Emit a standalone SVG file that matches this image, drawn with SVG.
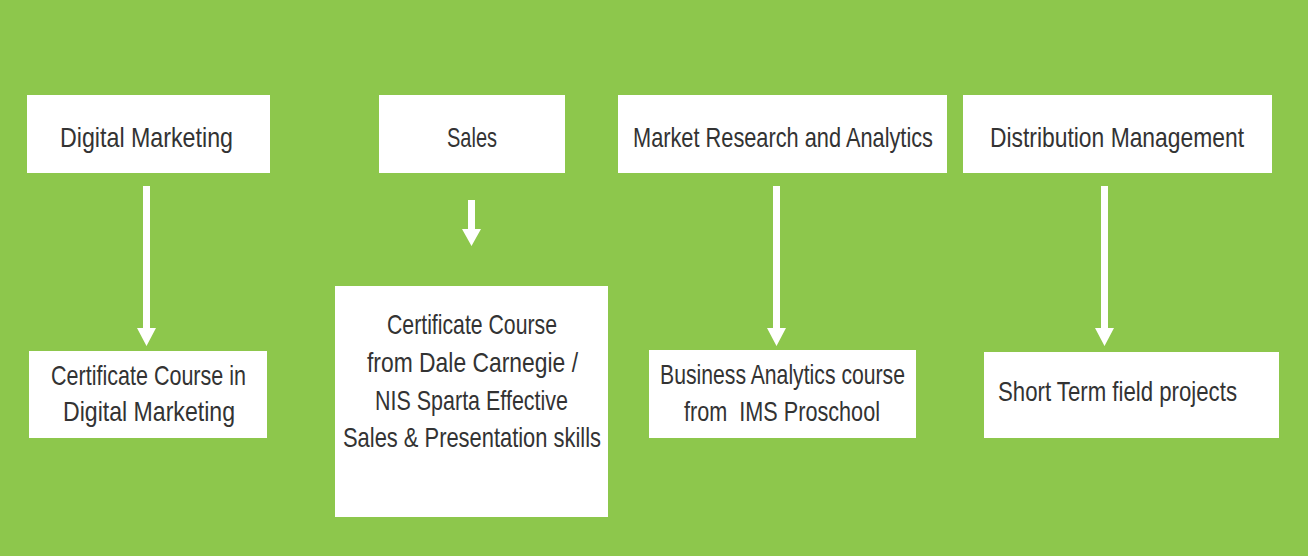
<svg xmlns="http://www.w3.org/2000/svg" width="1308" height="556" viewBox="0 0 1308 556">
<style>
.box{fill:#ffffff}
.t{font-family:"Liberation Sans",Arial,sans-serif;font-size:28px;fill:#333333;text-anchor:middle}
.arr{fill:#ffffff}
</style>
<rect x="0" y="0" width="1308" height="556" fill="#8DC74C"/>
<g id="n-digital-marketing">
<rect class="box" x="27" y="95" width="243" height="78"/>
<text class="t" x="146.5" y="147" textLength="173" lengthAdjust="spacingAndGlyphs">Digital Marketing</text>
</g>
<g id="n-sales">
<rect class="box" x="379" y="95" width="186" height="78"/>
<text class="t" x="472" y="147" textLength="50" lengthAdjust="spacingAndGlyphs">Sales</text>
</g>
<g id="n-market-research">
<rect class="box" x="618" y="95" width="329" height="78"/>
<text class="t" x="783" y="147" textLength="300" lengthAdjust="spacingAndGlyphs">Market Research and Analytics</text>
</g>
<g id="n-distribution">
<rect class="box" x="963" y="95" width="309" height="78"/>
<text class="t" x="1117" y="147" textLength="254" lengthAdjust="spacingAndGlyphs">Distribution Management</text>
</g>
<g id="n-cert-digital">
<rect class="box" x="29" y="351" width="238" height="87"/>
<text class="t" x="148.5" y="385" textLength="195" lengthAdjust="spacingAndGlyphs">Certificate Course in</text>
<text class="t" x="149" y="421" textLength="172" lengthAdjust="spacingAndGlyphs">Digital Marketing</text>
</g>
<g id="n-cert-sales">
<rect class="box" x="335" y="286" width="273" height="231"/>
<text class="t" x="472" y="334" textLength="170" lengthAdjust="spacingAndGlyphs">Certificate Course</text>
<text class="t" x="472.5" y="372" textLength="211" lengthAdjust="spacingAndGlyphs">from Dale Carnegie /</text>
<text class="t" x="471.5" y="410" textLength="193" lengthAdjust="spacingAndGlyphs">NIS Sparta Effective</text>
<text class="t" x="472" y="447" textLength="258" lengthAdjust="spacingAndGlyphs">Sales &amp; Presentation skills</text>
</g>
<g id="n-business-analytics">
<rect class="box" x="649" y="350" width="267" height="88"/>
<text class="t" x="782.5" y="384" textLength="245" lengthAdjust="spacingAndGlyphs">Business Analytics course</text>
<text class="t" x="782" y="421" textLength="196" lengthAdjust="spacingAndGlyphs" xml:space="preserve" style="white-space:pre">from  IMS Proschool</text>
</g>
<g id="n-short-term">
<rect class="box" x="984" y="352" width="295" height="86"/>
<text class="t" x="1117.5" y="401" textLength="239" lengthAdjust="spacingAndGlyphs">Short Term field projects</text>
</g>
<g id="connectors">
<path class="arr" d="M143,186 H150 V328 H156 L146.5,346 L137,328 H143 Z"/>
<path class="arr" d="M468,200 H475 V229 H481 L471.5,246 L462,229 H468 Z"/>
<path class="arr" d="M773,186 H780 V328 H786 L776.5,346 L767,328 H773 Z"/>
<path class="arr" d="M1101,186 H1108 V328 H1114 L1104.5,346 L1095,328 H1101 Z"/>
</g>
</svg>
